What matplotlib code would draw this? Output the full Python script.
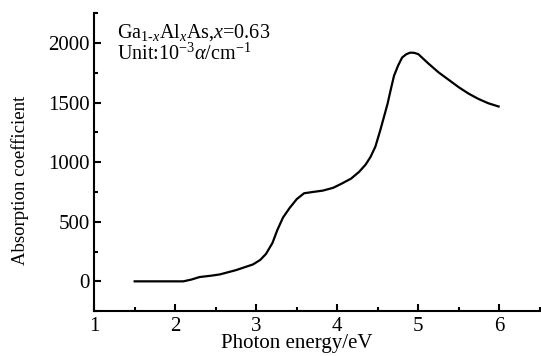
import matplotlib
matplotlib.use('Agg')
import matplotlib.pyplot as plt
from matplotlib.ticker import MultipleLocator

# Photon energy (eV) and absorption coefficient (10^-3 alpha/cm^-1)
energy = [1.5, 1.8, 2.1, 2.2, 2.3, 2.45, 2.55, 2.75, 2.96, 3.05, 3.12, 3.20, 3.26,
          3.33, 3.41, 3.50, 3.59, 3.70, 3.82, 3.95, 4.06, 4.17, 4.27, 4.35, 4.41,
          4.47, 4.53, 4.58, 4.62, 4.66, 4.70, 4.75, 4.80, 4.85, 4.90, 4.95, 5.00,
          5.12, 5.25, 5.38, 5.50, 5.62, 5.74, 5.86, 5.99]
absorption = [0, 0, 0, 15, 36, 48, 58, 94, 142, 180, 230, 322, 430,
              535, 614, 690, 739, 750, 761, 785, 822, 862, 919, 980, 1044,
              1130, 1267, 1390, 1489, 1610, 1725, 1810, 1878, 1905, 1919, 1917, 1906,
              1830, 1753, 1688, 1628, 1575, 1531, 1495, 1467]

x_ticks = [1, 2, 3, 4, 5, 6]
y_ticks = [0, 500, 1000, 1500, 2000]

plt.rcParams['font.family'] = ['Liberation Serif', 'DejaVu Serif']
plt.rcParams['mathtext.fontset'] = 'custom'
plt.rcParams['mathtext.rm'] = 'Liberation Serif'
plt.rcParams['mathtext.it'] = 'Liberation Serif:italic'

fig = plt.figure(figsize=(5.41, 3.56), dpi=100)
ax = fig.add_axes([0.174, 0.126, 0.824, 0.837])

ax.plot(energy, absorption, color='black', lw=1.6, solid_joinstyle='round')

ax.set_xlim(1, 6.5)
ax.set_ylim(-250, 2250)
ax.set_xticks(x_ticks)
ax.set_yticks(y_ticks)
ax.xaxis.set_minor_locator(MultipleLocator(0.5))
ax.yaxis.set_minor_locator(MultipleLocator(250))

for side in ['top', 'right']:
    ax.spines[side].set_visible(False)
for side in ['left', 'bottom']:
    ax.spines[side].set_linewidth(1.5)

ax.tick_params(which='major', direction='in', length=5, width=1.5, labelsize=15)
ax.tick_params(axis='x', which='major', pad=4)
ax.tick_params(axis='y', which='major', pad=3)
ax.tick_params(which='minor', direction='in', length=3, width=1.5)

ax.set_xlabel('Photon energy/eV', fontsize=15, va='baseline')
ax.xaxis.set_label_coords(0.455, -0.124)
ax.set_ylabel('Absorption coefficient', fontsize=13.5)
ax.yaxis.set_label_coords(-0.145, 0.44)

ax.text(0.052, 0.919, r'Ga$_{1\text{-}x}$Al$_x$As,$x$=0.63',
        transform=ax.transAxes, ha='left', va='baseline', fontsize=14.5)
ax.text(0.052, 0.843, r'Unit:10$^{-3}$$\alpha$/cm$^{-1}$',
        transform=ax.transAxes, ha='left', va='baseline', fontsize=14.5)

fig.savefig('out.png', dpi=100)
